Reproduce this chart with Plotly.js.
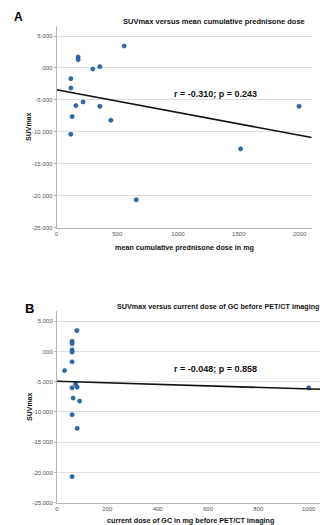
<!DOCTYPE html>
<html>
<head>
<meta charset="utf-8">
<script src="https://cdn.plot.ly/plotly-3.0.1.min.js"></script>
<style>
html,body{margin:0;padding:0;background:#fff;overflow:hidden;}
#chart{width:320px;height:525px;}
</style>
</head>
<body>
<div id="chart"></div>
<script>
// ---- Data ----
// Panel A: mean cumulative prednisone dose (mg) vs SUVmax
const doseA = [557, 178, 178, 357, 299, 118, 118, 219, 159, 357, 129, 447, 1996, 118, 1515, 656];
const suvA  = [3.44, 1.72, 1.31, 0.20, -0.16, -1.67, -3.13, -5.31, -5.89, -6.00, -7.61, -8.19, -6.00, -10.37, -12.66, -20.63];
// Panel B: current dose of GC (mg) before PET/CT vs SUVmax
const doseB = [79, 60, 60, 60, 60, 60, 30, 74, 60, 80, 64, 90, 60, 80, 60, 1000];
const suvB  = [3.47, 1.70, 1.30, 0.28, -0.10, -1.70, -3.15, -5.40, -6.00, -5.90, -7.70, -8.20, -10.45, -12.70, -20.70, -6.00];

const yTickVals = [-25, -20, -15, -10, -5, 0, 5];
const yTickText = ['-25,000', '-20,000', '-15,000', '-10,000', '-5,000', ',000', '5,000'];
const xTickValsA = [0, 500, 1000, 1500, 2000];
const xTickValsB = [0, 200, 400, 600, 800, 1000];

const titleA = 'SUVmax versus mean cumulative prednisone dose';
const titleB = 'SUVmax versus current dose of GC before PET/CT imaging';
const xTitleA = 'mean cumulative prednisone dose in mg';
const xTitleB = 'current dose of GC in mg before PET/CT imaging';
const yTitle = 'SUVmax';
const statA = 'r = -0.310; p = 0.243';
const statB = 'r = -0.048; p = 0.858';

// ---- least squares fit ----
function fit(x, y) {
  const n = x.length;
  const mx = x.reduce((a, b) => a + b, 0) / n;
  const my = y.reduce((a, b) => a + b, 0) / n;
  let sxy = 0, sxx = 0;
  for (let i = 0; i < n; i++) { sxy += (x[i] - mx) * (y[i] - my); sxx += (x[i] - mx) ** 2; }
  const b = sxy / sxx;
  return { a: my - b * mx, b: b };
}
const W = 320, H = 525;
const px = v => v / W, py = v => (H - v) / H;

const xRangeA = [0, 2100], xRangeB = [0, 1045];
const fA = fit(doseA, suvA), fB = fit(doseB, suvB);
const lineXA = [0, xRangeA[1]], lineXB = [0, 1100];

const marker = { color: '#2b6cb0', size: 4.2, line: { color: '#1d4f85', width: 0.6 } };

const traces = [
  { x: doseA, y: suvA, xaxis: 'x', yaxis: 'y', mode: 'markers', type: 'scatter', marker: marker, hoverinfo: 'none' },
  { x: lineXA, y: lineXA.map(v => fA.a + fA.b * v), xaxis: 'x', yaxis: 'y', mode: 'lines', type: 'scatter',
    line: { color: '#111', width: 1.6 }, hoverinfo: 'none' },
  { x: doseB, y: suvB, xaxis: 'x2', yaxis: 'y2', mode: 'markers', type: 'scatter', marker: marker, hoverinfo: 'none' },
  { x: lineXB, y: lineXB.map(v => fB.a + fB.b * v), xaxis: 'x2', yaxis: 'y2', mode: 'lines', type: 'scatter',
    line: { color: '#111', width: 1.6 }, hoverinfo: 'none' }
];

const tickFont = { family: 'Liberation Sans, Arial, sans-serif', size: 6, color: '#555' };
function yax(domain, range) {
  return {
    domain: domain, range: range, tickvals: yTickVals, ticktext: yTickText,
    showgrid: true, gridcolor: '#dedede', gridwidth: 1, zeroline: false,
    showline: true, linecolor: '#b5b5b5', linewidth: 1,
    ticks: 'outside', ticklen: 2, tickcolor: '#b5b5b5',
    tickfont: tickFont, fixedrange: true
  };
}
function xax(domain, range, vals) {
  return {
    domain: domain, range: range, tickvals: vals,
    showgrid: false, zeroline: false, showline: true, linecolor: '#b5b5b5', linewidth: 1,
    ticks: '', tickfont: tickFont, fixedrange: true
  };
}

const lblFont = { family: 'Liberation Sans, Arial, sans-serif', size: 7, color: '#111' };
const ann = (text, x, y, opts) => Object.assign({
  text: text, x: px(x), y: py(y), xref: 'paper', yref: 'paper', showarrow: false,
  xanchor: 'center', yanchor: 'middle', font: lblFont
}, opts || {});
const f = s => ({ family: 'Liberation Sans, Arial, sans-serif', size: s, color: '#111' });

const layout = {
  width: W, height: H, margin: { l: 0, r: 0, t: 0, b: 0 },
  paper_bgcolor: '#fff', plot_bgcolor: '#fff', showlegend: false,
  xaxis: xax([px(56.5), px(311.7)], xRangeA, xTickValsA),
  yaxis: Object.assign(yax([py(227.7), py(25.5)], [-25, 6.65]), { anchor: 'x' }),
  xaxis2: Object.assign(xax([px(57), 1], xRangeB, xTickValsB), { anchor: 'y2' }),
  yaxis2: Object.assign(yax([py(502.7), py(311)], [-25, 6.7]), { anchor: 'x2' }),
  annotations: [
    ann('<b>A</b>', 18, 17, { font: { family: 'Liberation Sans, Arial, sans-serif', size: 12, color: '#000' } }),
    ann('<b>B</b>', 29, 308, { font: { family: 'Liberation Sans, Arial, sans-serif', size: 13, color: '#000' } }),
    ann('<b>' + titleA + '</b>', 214, 22, { font: f(7.5) }),
    ann('<b>' + titleB + '</b>', 115, 306.5, { xanchor: 'left', font: f(7.2) }),
    ann('<b>' + xTitleA + '</b>', 184, 248, { font: f(7.2) }),
    ann('<b>' + xTitleB + '</b>', 190, 520, { font: f(7.2) }),
    ann('<b>' + yTitle + '</b>', 28, 127, { textangle: -90 }),
    ann('<b>' + yTitle + '</b>', 29, 407, { textangle: -90 }),
    ann('<b>' + statA + '</b>', 215, 93.5, { font: f(9) }),
    ann('<b>' + statB + '</b>', 215, 369.3, { font: f(9) })
  ]
};

Plotly.newPlot('chart', traces, layout, { staticPlot: true, displayModeBar: false });
</script>
</body>
</html>
